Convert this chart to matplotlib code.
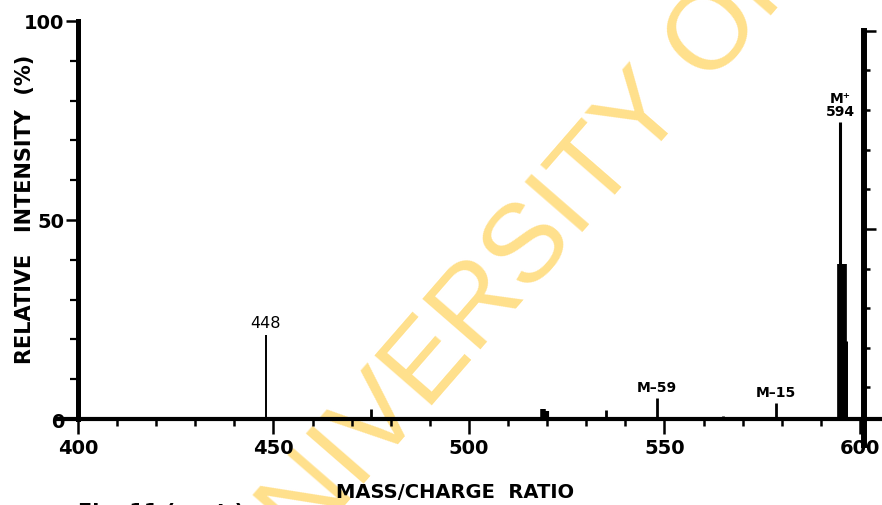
"""Mass spectrum (high-mass region) redrawn from a scanned figure."""
import matplotlib
matplotlib.use("Agg")
import matplotlib.pyplot as plt
import numpy as np

# peaks (m/z, relative intensity %)
mz = [448, 475, 519, 520, 535, 548, 565, 578.5, 594.9, 595.5, 596.1]
intensity = [21, 2.5, 2.5, 2.0, 2.3, 5.3, 0.8, 4.0, 74.5, 39, 19.5]

# annotated peaks
label_text = ["448", "M\u201359", "M\u201315", "M\u207a\n594"]
label_mz = [448, 548, 578.5, 594.9]
label_y = [21, 5.3, 4.0, 74.5]

x_ticks = [400, 450, 500, 550, 600]
y_ticks = [0, 50, 100]
right_ticks = [10, 20, 30, 40, 60, 70, 80, 90]

FONT = ["Liberation Sans Narrow", "DejaVu Sans"]

fig = plt.figure(figsize=(8.82, 5.06), dpi=100)
ax = fig.add_axes([0, 0, 1, 1])
ax.patch.set_visible(False)
ax.set_xlim(380.05, 605.63)
ax.set_ylim(-21.6, 105.5)

# spectrum lines
peak_lw = [1.4, 2.0, 4.0, 3.0, 2.0, 2.0, 2.0, 2.0, 2.2, 7.0, 3.6]
ax.vlines(mz, 0, intensity, colors="black", linewidths=peak_lw, zorder=3)

for txt, x, y in zip(label_text, label_mz, label_y):
    bold = txt != "448"
    ax.annotate(txt, xy=(x, y), xytext=(0, 3 if bold else 4), textcoords="offset points",
                ha="center", va="bottom", fontsize=10 if bold else 11.5,
                fontweight="bold" if bold else "normal", linespacing=0.95,
                family="DejaVu Sans")

# axes in the old plotter style
for side in ("top", "right"):
    ax.spines[side].set_visible(False)
ax.spines["left"].set_position(("data", 400))
ax.spines["left"].set_bounds(0, 100)
ax.spines["left"].set_linewidth(3.6)
ax.spines["bottom"].set_position(("data", 0))
ax.spines["bottom"].set_bounds(394.9, 605.63)
ax.spines["bottom"].set_linewidth(3.0)

ax.set_xticks(x_ticks)
ax.set_xticks(np.arange(400, 601, 10), minor=True)
ax.set_yticks(y_ticks)
ax.set_yticks(np.arange(0, 101, 10), minor=True)
ax.tick_params(axis="x", which="major", direction="out", length=11, width=1.8,
               pad=3, labelsize=14)
ax.tick_params(axis="x", which="minor", direction="out", length=5, width=1.8)
ax.tick_params(axis="y", which="major", direction="out", length=9, width=1.8,
               pad=1, labelsize=14)
ax.tick_params(axis="y", which="minor", direction="out", length=5.5, width=1.6)
for lab in ax.get_xticklabels() + ax.get_yticklabels():
    lab.set_fontfamily(FONT)
    lab.set_fontweight("bold")

# right-hand axis of the next panel, cut by the page edge
ax2 = ax.twinx()
ax2.patch.set_visible(False)
ax2.set_ylim((-21.6 + 2) / 0.995, (105.5 + 2) / 0.995)
for side in ("top", "left", "bottom"):
    ax2.spines[side].set_visible(False)
ax2.spines["right"].set_position(("data", 600.9))
ax2.spines["right"].set_bounds(-4.5, 100)
ax2.spines["right"].set_linewidth(4.3)
ax2.set_yticks([50, 100])
ax2.set_yticks(right_ticks, minor=True)
ax2.tick_params(axis="y", which="major", direction="out", length=8.5, width=1.8,
                labelright=False)
ax2.tick_params(axis="y", which="minor", direction="out", length=4, width=1.8)

# axis titles
fig.text(25 / 882, 1 - 209 / 506, "RELATIVE   INTENSITY  (%)", rotation=90,
         ha="center", va="center", fontsize=15, fontweight="bold", family=FONT)
fig.text(455 / 882, 1 - 493 / 506, "MASS/CHARGE  RATIO", ha="center", va="center",
         fontsize=14, fontweight="bold", family=FONT)
fig.text(78 / 882, 1 - 503 / 506, "Fig. 11 (cont.)", ha="left", va="top",
         fontsize=15, fontweight="bold", family="DejaVu Sans")

# scan watermark
fig.text(252 / 882, 1 - 612 / 506, "UNIVERSITY OF", rotation=49, rotation_mode="anchor",
         ha="left", va="baseline", fontsize=80, color="#FFE08C",
         family="Liberation Sans", zorder=-1)

fig.savefig("out.png", dpi=100)
